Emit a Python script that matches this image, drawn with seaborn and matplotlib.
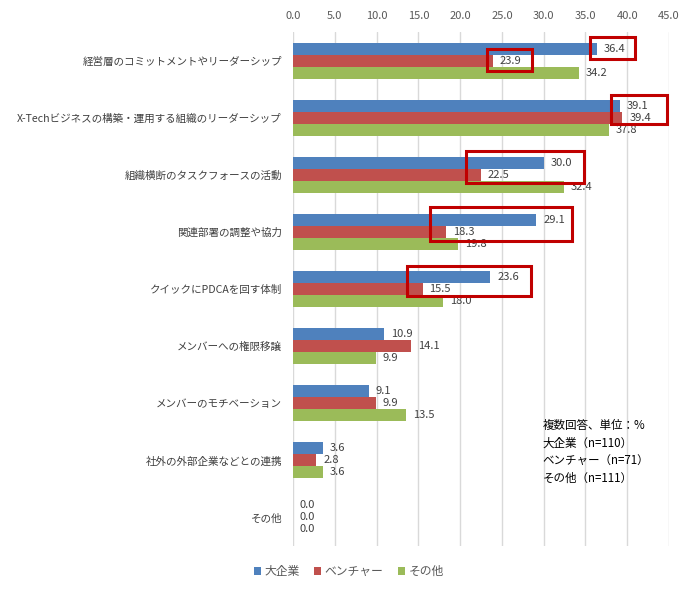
import seaborn as sns
import matplotlib.pyplot as plt
import pandas as pd
from matplotlib.patches import Rectangle

# data (複数回答、単位：%)
categories = [
    '経営層のコミットメントやリーダーシップ',
    'X-Techビジネスの構築・運用する組織のリーダーシップ',
    '組織横断のタスクフォースの活動',
    '関連部署の調整や協力',
    'クイックにPDCAを回す体制',
    'メンバーへの権限移譲',
    'メンバーのモチベーション',
    '社外の外部企業などとの連携',
    'その他',
]
series = ['大企業', 'ベンチャー', 'その他']
large = [36.4, 39.1, 30.0, 29.1, 23.6, 10.9, 9.1, 3.6, 0.0]
venture = [23.9, 39.4, 22.5, 18.3, 15.5, 14.1, 9.9, 2.8, 0.0]
other = [34.2, 37.8, 32.4, 19.8, 18.0, 9.9, 13.5, 3.6, 0.0]
notes = ['複数回答、単位：%', '大企業（n=110）', 'ベンチャー（n=71）', 'その他（n=111）']

colors = ['#4F81BD', '#C0504D', '#9BBB59']

rows = []
for s, vals in zip(series, [large, venture, other]):
    for c, v in zip(categories, vals):
        rows.append({'item': c, 'group': s, 'value': v})
df = pd.DataFrame(rows)

sns.set_style('white')
plt.rcParams['font.family'] = ['Noto Sans CJK JP', 'DejaVu Sans']

fig = plt.figure(figsize=(6.95, 5.92), dpi=100)
ax = fig.add_axes([0.4216, 0.0777, 0.541, 0.868])

sns.barplot(data=df, x='value', y='item', hue='group', hue_order=series,
            order=categories, palette=colors, orient='h', width=0.63,
            gap=0, edgecolor='none', linewidth=0, saturation=1, ax=ax)

for cont in ax.containers:
    ax.bar_label(cont, fmt='%.1f', padding=5, fontsize=8, color='#404040')

ax.set_xlim(0, 45)
ax.set_ylim(8.5, -0.5)
ax.set_xticks(range(0, 50, 5))
ax.set_xticklabels([f'{t:.1f}' for t in range(0, 50, 5)])
ax.xaxis.tick_top()
ax.tick_params(axis='x', length=0, pad=8, labelsize=8, labelcolor='#595959')
ax.tick_params(axis='y', length=0, pad=8, labelsize=7.6, labelcolor='#404040')
ax.xaxis.grid(True, color='#D9D9D9', linewidth=1)
ax.set_axisbelow(True)
ax.set_xlabel('')
ax.set_ylabel('')
for sp in ax.spines.values():
    sp.set_visible(False)

# red highlight boxes (x0, x1, y0, y1)
boxes = [
    (35.5, 40.9, -0.41, -0.03),
    (23.2, 28.6, -0.20, 0.18),
    (38.0, 44.8, 0.60, 1.11),
    (20.7, 34.8, 1.58, 2.14),
    (16.4, 33.4, 2.56, 3.155),
    (13.6, 28.5, 3.60, 4.12),
]
for x0, x1, y0, y1 in boxes:
    ax.add_patch(Rectangle((x0, y0), x1 - x0, y1 - y0, fill=False,
                           edgecolor='#C00000', linewidth=2.2, clip_on=False, zorder=5))

handles, labels = ax.get_legend_handles_labels()
ax.get_legend().remove()
fig.legend(handles, labels, loc='center', bbox_to_anchor=(0.502, 0.034), ncol=3,
           frameon=False, fontsize=8.5, handlelength=0.6, handleheight=0.6,
           handletextpad=0.3, columnspacing=1.2, labelcolor='#595959')

for i, t in enumerate(notes):
    fig.text(0.781, 1 - (425 + 17.8 * i) / 592, t, fontsize=8.3, va='center', ha='left', color='black')

fig.savefig('out.png', dpi=100)
